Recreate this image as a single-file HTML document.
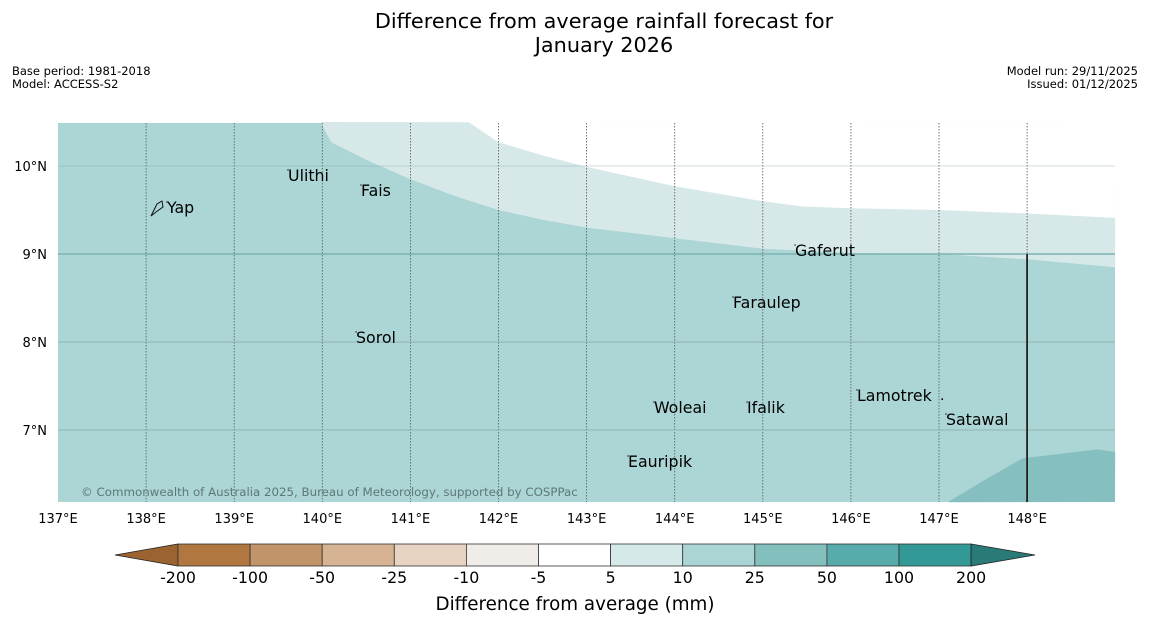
<!DOCTYPE html>
<html><head><meta charset="utf-8">
<style>
html,body{margin:0;padding:0;background:#fff;width:1150px;height:644px;overflow:hidden}
svg{display:block;font-family:"DejaVu Sans","Liberation Sans",sans-serif}
</style></head>
<body>
<svg id="chart" width="1150" height="644" viewBox="0 0 1150 644">
<text x="604" y="28" font-size="20.8" text-anchor="middle" fill="#000">Difference from average rainfall forecast for</text>
<text x="604" y="52" font-size="20.8" text-anchor="middle" fill="#000">January 2026</text>
<text x="12" y="75" font-size="11.5">Base period: 1981-2018</text>
<text x="12" y="88" font-size="11.5">Model: ACCESS-S2</text>
<text x="1138" y="75" font-size="11.5" text-anchor="end">Model run: 29/11/2025</text>
<text x="1138" y="88" font-size="11.5" text-anchor="end">Issued: 01/12/2025</text>
<g id="map"></g>
<g id="cbar"></g>
<text x="575" y="610" font-size="18.3" text-anchor="middle">Difference from average (mm)</text>
</svg>
<script>
const lonTicks=[137,138,139,140,141,142,143,144,145,146,147,148];
const latTicks=[10,9,8,7];
const lightBoundary=[[139.98,10.5],[140.1,10.27],[140.5,10.07],[141,9.85],[141.5,9.66],[142,9.5],[142.5,9.39],[143,9.3],[144,9.18],[145,9.06],[146,9.01],[147,9.0],[148,8.94],[149,8.85]];
const whiteBoundary=[[141.66,10.5],[142,10.27],[142.5,10.12],[143,9.99],[144,9.77],[145,9.6],[145.45,9.54],[146,9.52],[147,9.5],[148,9.46],[149,9.41]];
const darkBoundary=[[147.1,6.18],[147.5,6.42],[147.95,6.68],[148.8,6.78],[149,6.75]];
const islandNames=["Yap","Ulithi","Fais","Gaferut","Faraulep","Sorol","Woleai","Ifalik","Lamotrek","Satawal","Eauripik"];
const islandLon=[138.237,139.611,140.439,145.366,144.662,140.383,143.765,144.821,146.069,147.079,143.47];
const islandLat=[9.466,9.83,9.659,8.977,8.386,7.989,7.193,7.193,7.33,7.057,6.58];
const cbLabels=["-200","-100","-50","-25","-10","-5","5","10","25","50","100","200"];
const cbColors=["#b07840","#c29469","#d5b393","#e6d3c1","#f0ede8","#ffffff","#d5e9e8","#aad5d4","#82bfbd","#57abaa","#339996"];
const NS="http://www.w3.org/2000/svg";
const X0=58,X1=1115,Y0=123,Y1=502;
const xs=lon=>58+(lon-137)*88.1;
const ys=lat=>166+(10-lat)*88;
function mk(tag,attrs,parent){const e=document.createElementNS(NS,tag);for(const k in attrs)e.setAttribute(k,attrs[k]);parent.appendChild(e);return e;}
const map=document.getElementById('map');
mk('rect',{x:X0,y:Y0,width:X1-X0,height:Y1-Y0,fill:'#acd5d5'},map);
function poly(pts,close,fill,name){
  let d='M'+pts.map(p=>xs(p[0]).toFixed(1)+','+ys(p[1]).toFixed(1)).join(' L')+close;
  const p=mk('path',{d:d,fill:fill,stroke:'none'},map);
  
  
}
poly(lightBoundary,` L${X1},${Y0} Z`,'#d6e9e8','band-5-10');
poly(whiteBoundary,` L${X1},${Y0} Z`,'#ffffff','band-minus5-5');
poly(darkBoundary,` L${X1},${Y1} Z`,'#86bfbf','band-25-50');
lonTicks.forEach(l=>{
  const x=xs(l);
  if(l>137){const g=mk('line',{x1:x,x2:x,y1:Y0,y2:Y1,stroke:'#555','stroke-width':0.8,'stroke-dasharray':'1.5,1.5'},map);}
  const t=mk('text',{x:x,y:523,'font-size':13,'text-anchor':'middle'},map);t.textContent=l+'°E';
  
  
});
latTicks.forEach(l=>{
  const y=ys(l);
  const g=mk('line',{x1:X0,x2:X1,y1:y,y2:y,stroke:l===9?'#7ab3b2':'#8aa9a8','stroke-width':l===9?1.6:0.8,'stroke-opacity':l===10?0.5:1},map);
  
  const t=mk('text',{x:47,y:y+5,'font-size':13,'text-anchor':'end'},map);t.textContent=l+'°N';
  
  
});
mk('line',{x1:xs(148),x2:xs(148),y1:ys(9),y2:Y1,stroke:'#222','stroke-width':1.8},map);
islandNames.forEach((n,i)=>{
  const x=xs(islandLon[i]),y=ys(islandLat[i]);
  mk('circle',{cx:x,cy:y-11,r:0.8,fill:'#333'},map);
  const t=mk('text',{x:x,y:y,'font-size':15.8,fill:'#000'},map);t.textContent=n;
  
  
});
mk('path',{d:'M151,216 L157,204 L162,201 L163,207 L156,212 Z',fill:'none',stroke:'#111','stroke-width':1},map);
mk('text',{x:940,y:400,'font-size':14},map).textContent='.';
const cr=mk('text',{x:81,y:496,'font-size':11.8,fill:'#5d7877'},map);cr.textContent='© Commonwealth of Australia 2025, Bureau of Meteorology, supported by COSPPac';

const cb=document.getElementById('cbar');
const cbx0=178,cbw=72.1,cby=544,cbh=22;
mk('path',{d:`M115,555 L${cbx0},${cby} L${cbx0},${cby+cbh} Z`,fill:'#9a6330',stroke:'#222','stroke-width':0.8},cb);
cbColors.forEach((c,i)=>{
  const r=mk('rect',{x:cbx0+i*cbw,y:cby,width:cbw,height:cbh,fill:c,stroke:'#333','stroke-width':0.8},cb);
  
  
});
const cbx1=cbx0+cbColors.length*cbw;
mk('path',{d:`M${cbx1},${cby} L1035,555 L${cbx1},${cby+cbh} Z`,fill:'#2a7a78',stroke:'#222','stroke-width':0.8},cb);
cbLabels.forEach((l,i)=>{
  const t=mk('text',{x:cbx0+i*cbw,y:583,'font-size':15.8,'text-anchor':'middle'},cb);t.textContent=l;
  
  
});
</script>
</body></html>
